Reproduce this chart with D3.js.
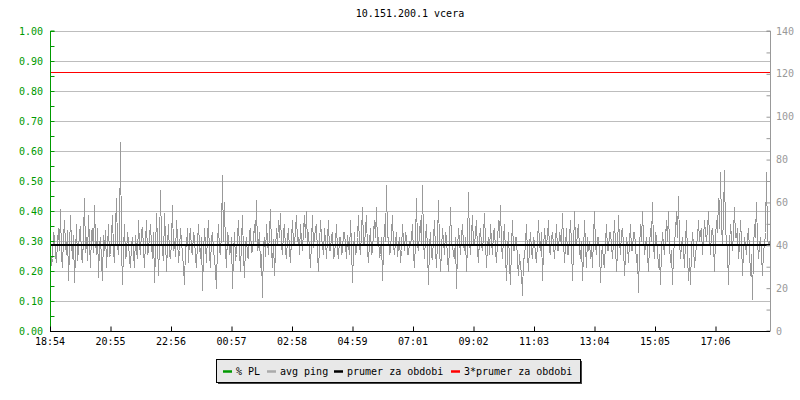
<!DOCTYPE html>
<html>
<head>
<meta charset="utf-8">
<script src="https://cdn.jsdelivr.net/npm/d3@7"></script>
<style>
html,body{margin:0;padding:0;background:#fff;}
svg{display:block;font-family:"DejaVu Sans Mono",monospace;}
</style>
</head>
<body>
<svg id="chart" width="800" height="400"></svg>
<script>
const title = "10.151.200.1 vcera";
const stepMinutes = 2;
const totalMinutes = 1440;
const tickMinutes = [0,121,242,363,484,605,726,847,968,1089,1210,1331];
const tickLabels = ["18:54","20:55","22:56","00:57","02:58","04:59","07:01","09:02","11:03","13:04","15:05","17:06"];
const plTicks = [0,0.1,0.2,0.3,0.4,0.5,0.6,0.7,0.8,0.9,1.0];
const pingTicks = [0,20,40,60,80,100,120,140];
const legendLabels = ["% PL","avg ping","prumer za obdobi","3*prumer za obdobi"];
const legendColors = ["#009900","#aaaaaa","#000000","#ff0000"];
const prumer = 40.3;
const plValues = [0,0];
const avgPing = [
40,31,34,46,44,36,32,42,48,38,57,35,30,44,52,40,36,47,24,38,54,41,34,45,23,36,50,33,38,46,49,35,32,44,62,37,44,33,54,42,30,46,48,37,59,42,36,48,25,40,44,33,24,45,38,47,30,39,50,35,
36,45,54,38,32,48,62,40,36,45,88,40,22,38,50,34,36,46,42,33,30,40,44,36,30,45,38,34,52,40,36,47,48,39,30,42,52,36,38,45,50,40,34,46,23,37,55,42,26,40,66,43,38,33,55,44,28,40,50,36,
34,42,59,38,42,35,52,44,32,38,48,42,36,30,22,39,40,48,32,44,48,38,36,46,44,34,30,42,50,40,34,44,19,36,48,40,32,45,52,36,30,44,46,38,34,28,20,42,50,38,36,46,73,42,60,38,30,46,44,36,
38,44,20,36,46,33,36,45,52,38,28,42,54,36,25,40,44,35,34,46,48,37,38,44,50,42,61,38,40,46,30,36,16,40,44,35,50,42,36,46,57,39,30,43,26,38,48,40,52,44,55,40,36,46,50,38,34,44,48,38,
32,44,52,40,40,48,54,42,44,36,50,42,38,47,54,44,56,40,46,38,30,42,54,39,44,48,50,36,28,40,52,44,40,36,48,42,34,44,52,38,38,45,46,34,36,42,50,38,34,44,44,36,38,46,46,40,34,45,40,36,
52,40,23,38,46,36,38,44,54,40,36,46,58,42,40,48,54,38,32,42,48,36,38,46,52,44,58,40,44,35,36,44,24,38,50,42,68,44,44,36,38,46,54,40,36,42,46,35,40,44,32,38,50,42,38,46,44,36,36,42,
40,44,50,36,30,42,62,40,38,46,52,40,68,42,34,44,50,38,22,40,46,35,34,44,52,38,30,42,61,40,28,38,48,42,36,46,44,34,28,40,58,42,40,36,34,44,20,38,48,42,36,45,50,40,38,44,28,40,65,42,
36,45,54,40,40,46,52,38,32,44,48,40,38,45,55,42,30,40,44,36,50,42,36,46,48,38,32,42,52,44,59,40,34,44,50,36,24,38,46,32,22,40,52,38,38,44,44,32,26,36,30,28,17,34,34,42,50,36,28,40,
46,38,34,44,42,36,32,42,52,40,38,46,24,38,48,42,40,45,52,38,36,44,46,40,34,42,50,38,38,46,44,40,55,42,32,40,48,36,36,44,52,40,24,38,56,42,40,46,50,38,34,42,24,36,52,40,30,44,38,42,
34,40,30,44,56,40,36,44,44,38,23,36,40,32,30,42,50,38,38,46,46,40,34,42,52,40,28,38,54,42,36,46,48,40,26,36,44,40,32,42,50,38,38,46,46,40,32,36,18,38,50,42,56,44,36,40,44,36,28,40,
48,42,60,40,34,46,44,38,30,36,22,38,46,40,36,44,52,42,56,40,32,38,22,36,42,46,56,44,63,42,34,40,44,38,30,42,52,36,24,34,22,38,46,40,30,36,40,44,52,42,46,48,36,44,52,46,42,48,56,44,
36,46,48,42,28,44,52,46,62,48,74,50,40,54,75,46,44,38,22,40,50,44,38,46,58,44,44,48,34,40,52,42,26,38,44,40,36,44,48,38,26,36,15,38,50,44,60,42,34,40,44,36,26,38,40,46,74,44,40,42
];

const svg = d3.select("#chart");
const L = 50, R = 770, T = 31, B = 331;

const x = d3.scaleLinear().domain([0,totalMinutes]).range([L,R]);
const yPL = d3.scaleLinear().domain([0,1]).range([B,T]);
const yPing = d3.scaleLinear().domain([0,140]).range([B,T]);

svg.append("text").attr("x",(L+R)/2).attr("y",17).attr("text-anchor","middle")
  .attr("font-size",10).attr("fill","#000").text(title);

svg.append("g").selectAll("line").data(plTicks).join("line")
  .attr("x1",L).attr("x2",R)
  .attr("y1",d=>Math.round(yPL(d))+0.5).attr("y2",d=>Math.round(yPL(d))+0.5)
  .attr("stroke","#bdbdbd").attr("stroke-width",1);

svg.append("path").datum(plValues.map((v,i)=>[i*totalMinutes/(plValues.length-1),v]))
  .attr("fill","none").attr("stroke","#009900").attr("stroke-width",1)
  .attr("d",d3.line().x(d=>x(d[0])).y(d=>Math.round(yPL(d[1]))+0.5));

svg.append("path").datum(avgPing)
  .attr("fill","none").attr("stroke","#999999").attr("stroke-width",1)
  .attr("shape-rendering","crispEdges")
  .attr("d",d3.line()
    .x((d,i)=>Math.round(x(i*stepMinutes))+0.5).y(d=>Math.round(yPing(d))+0.5));

svg.append("line").attr("x1",L).attr("x2",R)
  .attr("y1",Math.round(yPing(prumer))).attr("y2",Math.round(yPing(prumer)))
  .attr("stroke","#000").attr("stroke-width",2);
svg.append("line").attr("x1",L).attr("x2",R)
  .attr("y1",Math.round(yPing(3*prumer))+0.5).attr("y2",Math.round(yPing(3*prumer))+0.5)
  .attr("stroke","#ff0000").attr("stroke-width",1.2);

const leftAxis = d3.axisRight(yPL).tickValues(d3.range(0,1.0001,0.05)).tickSize(4).tickFormat("");
const gl = svg.append("g").attr("transform",`translate(${L+0.5},0)`).call(leftAxis);
gl.select(".domain").attr("stroke","#009900").attr("d",`M4,${T}H0V${B}`);
gl.selectAll(".tick line").attr("stroke","#009900");
svg.append("g").selectAll("text").data(plTicks).join("text")
  .attr("x",L-7).attr("y",d=>yPL(d)).attr("dy","0.35em").attr("text-anchor","end")
  .attr("font-size",10).attr("fill","#009900").text(d=>d.toFixed(2));

const rightAxis = d3.axisLeft(yPing).tickValues(d3.range(0,141,10)).tickSize(4).tickFormat("");
const gr = svg.append("g").attr("transform",`translate(${R+0.5},0)`).call(rightAxis);
gr.select(".domain").attr("stroke","#999").attr("d",`M-4,${T}H0V${B}H-4`);
gr.selectAll(".tick line").attr("stroke","#999");
svg.append("g").selectAll("text").data(pingTicks).join("text")
  .attr("x",R+6).attr("y",d=>yPing(d)).attr("dy","0.35em").attr("text-anchor","start")
  .attr("font-size",10).attr("fill","#999").text(d=>d);

const bottomAxis = d3.axisTop(x).tickValues(tickMinutes).tickSize(5).tickFormat("");
const gb = svg.append("g").attr("transform",`translate(0,${B+0.5})`).call(bottomAxis);
gb.select(".domain").attr("stroke","#000").attr("d",`M${L},0H${R}`);
gb.selectAll(".tick line").attr("stroke","#000");
svg.append("g").selectAll("text").data(tickMinutes).join("text")
  .attr("x",d=>x(d)).attr("y",345).attr("text-anchor","middle")
  .attr("font-size",10).attr("fill","#000").text((d,i)=>tickLabels[i]);

const lg = svg.append("g");
const lx = 216, ly = 359, lw = 364, lh = 23;
lg.append("rect").attr("x",lx+2).attr("y",ly+2).attr("width",lw).attr("height",lh).attr("fill","#444");
lg.append("rect").attr("x",lx+0.5).attr("y",ly+0.5).attr("width",lw).attr("height",lh)
  .attr("fill","#e8e8e8").attr("stroke","#000");
const swX = [223,267,334,451];
legendLabels.forEach((t,i)=>{
  lg.append("line").attr("x1",swX[i]).attr("x2",swX[i]+9).attr("y1",ly+lh/2+1).attr("y2",ly+lh/2+1)
    .attr("stroke",legendColors[i]).attr("stroke-width",2.5);
  lg.append("text").attr("x",swX[i]+13).attr("y",ly+lh/2+1).attr("dy","0.35em")
    .attr("font-size",10).attr("fill","#000").text(t);
});
</script>
</body>
</html>
